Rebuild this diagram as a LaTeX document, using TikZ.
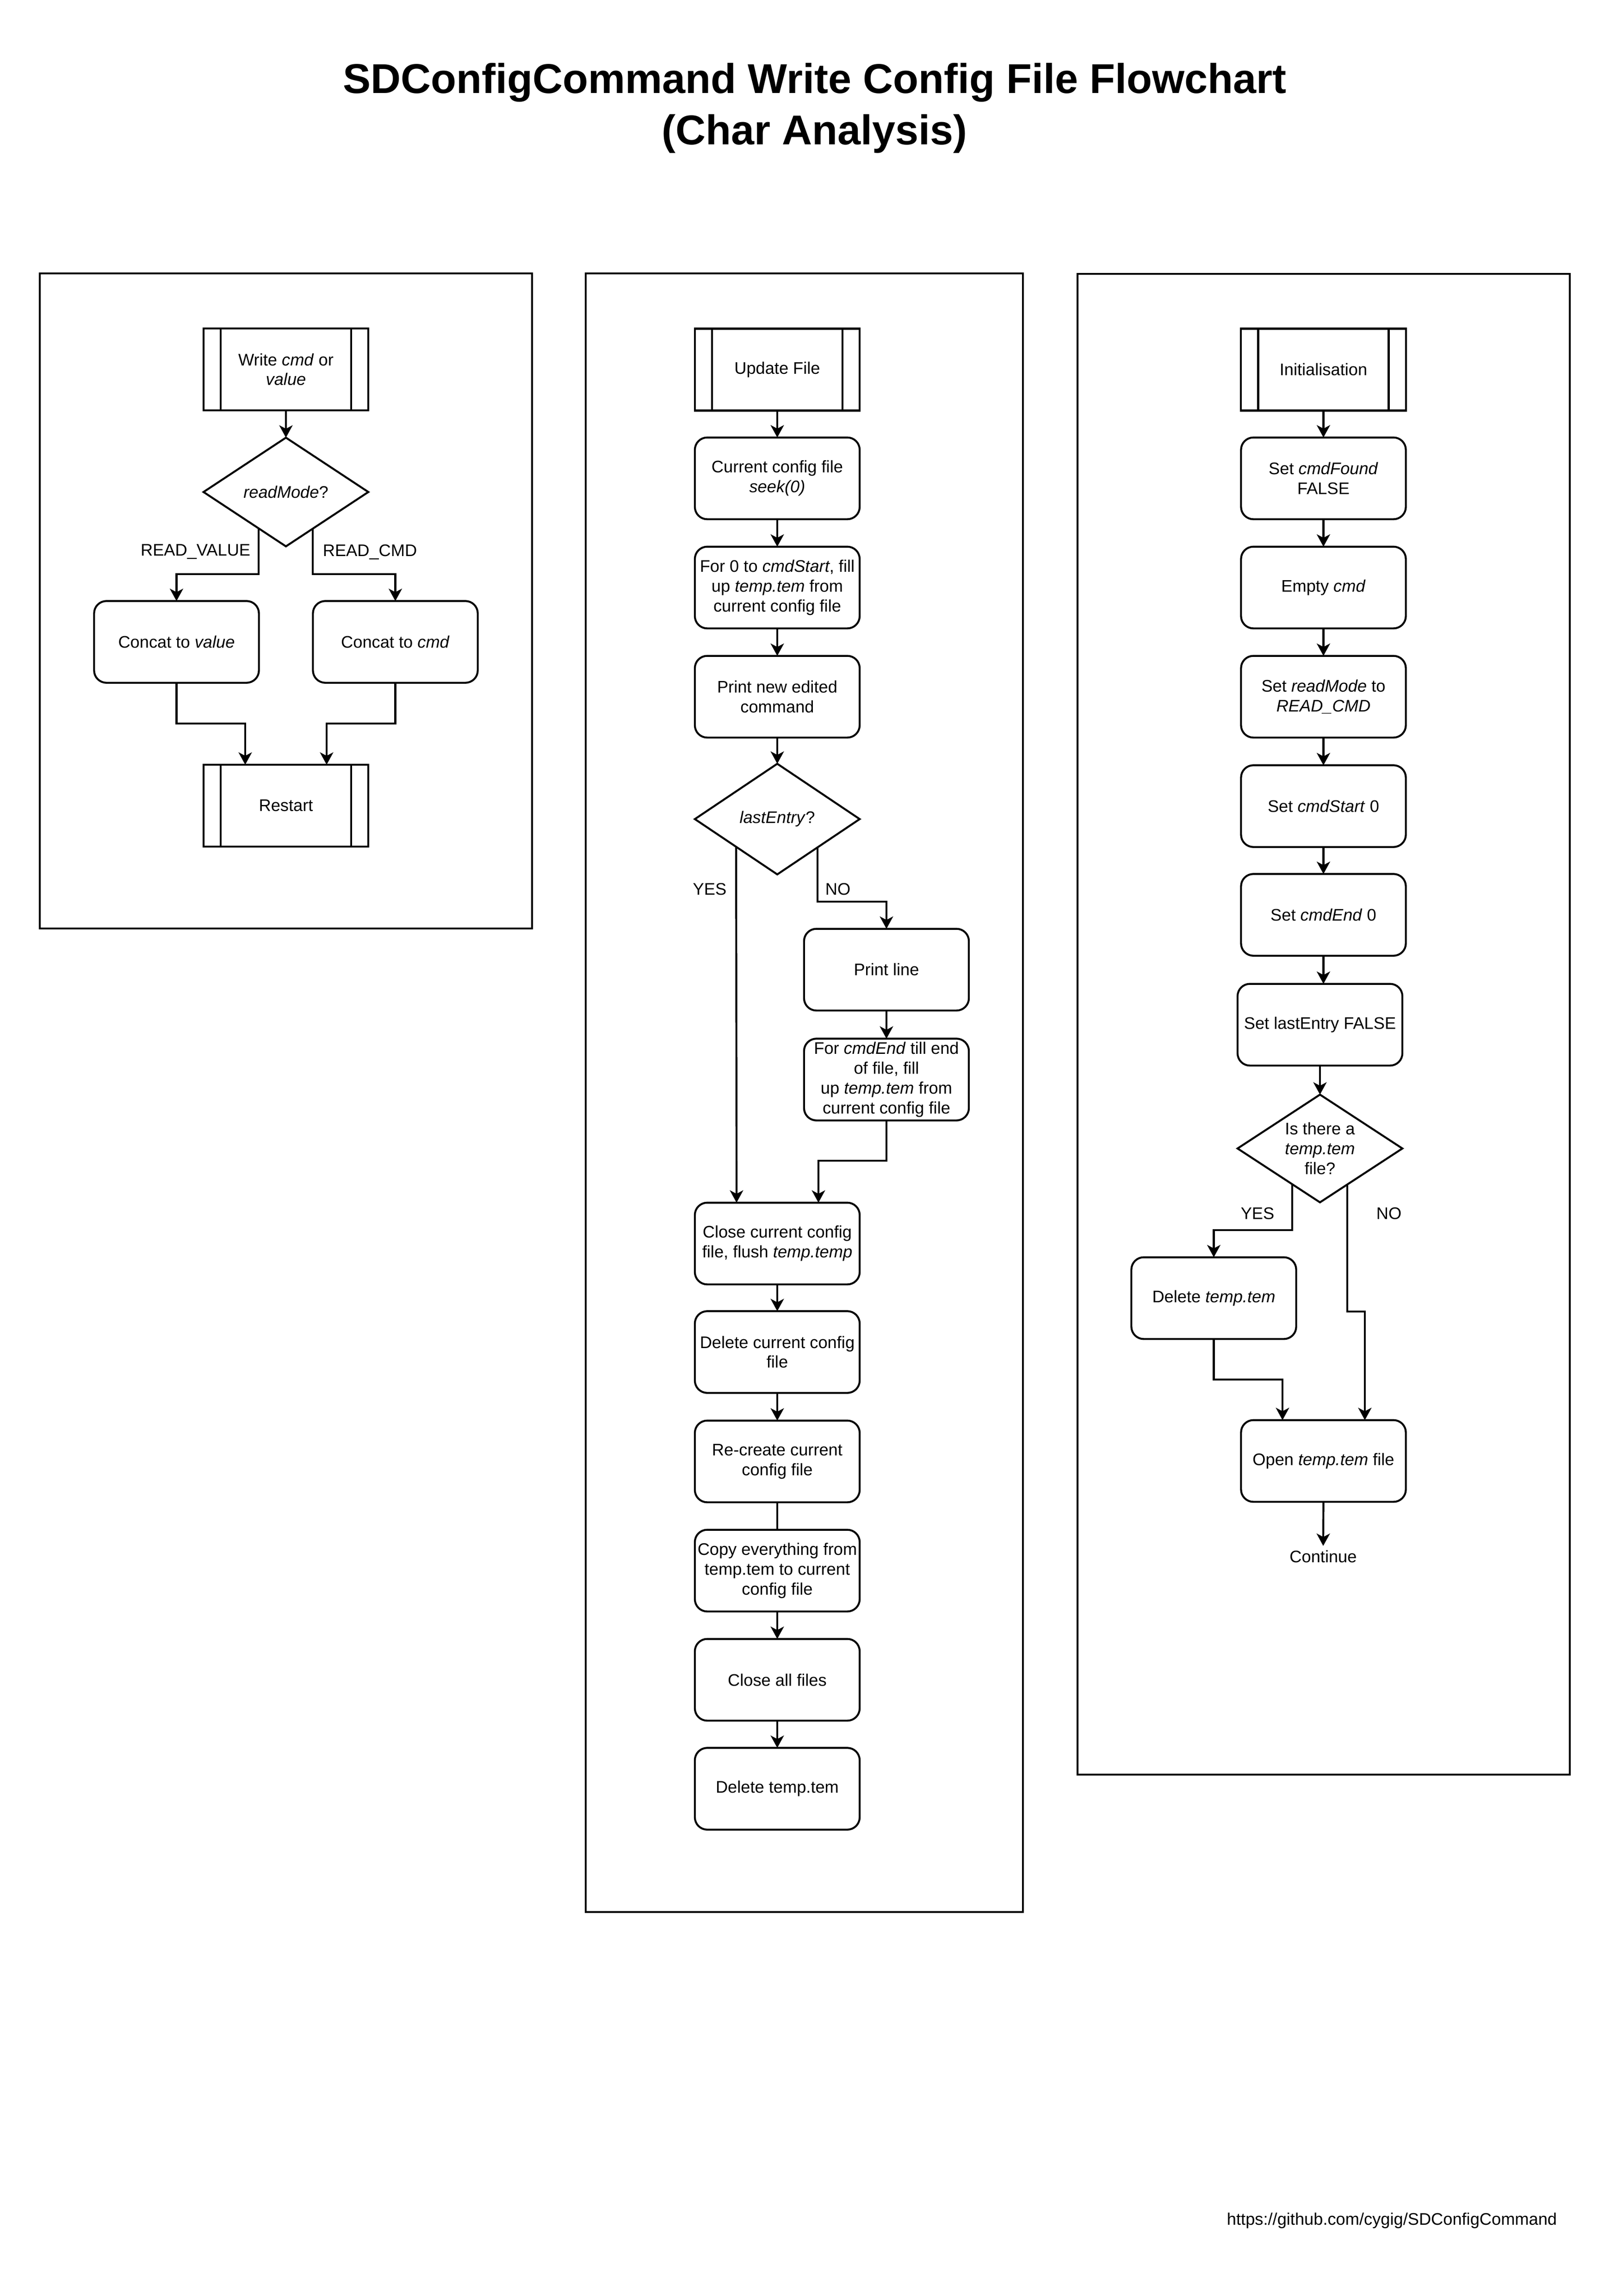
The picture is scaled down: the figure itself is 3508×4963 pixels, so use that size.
\documentclass[tikz,border=0pt]{standalone}
\usepackage{fontspec}
\setmainfont{Liberation Sans}
\usetikzlibrary{arrows.meta,calc,shapes.geometric}
\begin{document}
\begin{tikzpicture}[x=0.24pt,y=-0.24pt,
  lw/.style={line width=1pt},
  every node/.style={font=\fontsize{8.7}{10.3}\selectfont},
  panel/.style={draw,lw},
  stepbox/.style={draw,lw,rounded corners=6.4pt,minimum width=85.5pt,minimum height=42.4pt,align=center,inner sep=1pt,outer sep=0pt},
  procbox/.style={draw,lw,minimum width=85.5pt,minimum height=42.5pt,align=center,inner sep=1pt,outer sep=0pt,
    path picture={
      \draw[lw] ([xshift=8.9pt]path picture bounding box.north west) -- ([xshift=8.9pt]path picture bounding box.south west);
      \draw[lw] ([xshift=-8.9pt]path picture bounding box.north east) -- ([xshift=-8.9pt]path picture bounding box.south east);}},
  decision/.style={draw,lw,diamond,minimum width=85.5pt,minimum height=56.5pt,inner sep=0pt,outer sep=0pt},
  arr/.style={lw,-{Stealth[length=6.4pt,width=6.9pt,inset=1.8pt]}},
  plain/.style={lw},
  lbl/.style={inner sep=0pt},
]
\useasboundingbox (0,0) rectangle (3508,4963);
\fill[white] (0,0) rectangle (3508,4963);

% title
\node[align=center,font=\fontsize{21.6}{26.6}\selectfont\bfseries] (title) at (1761,234)
  {SDConfigCommand Write Config File Flowchart\\(Char Analysis)};

% panels
\draw[panel] (86,591) rectangle (1150,2007);
\draw[panel] (1266,591) rectangle (2211,4133);
\draw[panel] (2329,592) rectangle (3393,3836);

% ---------- panel 1 ----------
\node[procbox] (w1) at (618,798.5) {Write \textit{cmd} or\\\textit{value}};
\node[decision,minimum height=56.4pt,label={[align=center]center:{\textit{readMode}?}}] (d1) at (618,1063.5) {};
\node[stepbox] (cv) at (381.5,1387.5) {Concat to \textit{value}};
\node[stepbox] (cc1) at (854.5,1387.5) {Concat to \textit{cmd}};
\node[procbox] (rs) at (618,1741.5) {Restart};

\draw[arr] (w1.south) -- (d1.north);
\draw[arr] (d1.233.4) |- ($(cv.north)+(0,-58)$) -- (cv.north);
\draw[arr] (d1.306.6) |- ($(cc1.north)+(0,-58)$) -- (cc1.north);
\draw[arr] (cv.south) |- ($(rs.north)+(-88,-89)$) -- ($(rs.north)+(-88,0)$);
\draw[arr] (cc1.south) |- ($(rs.north)+(88,-89)$) -- ($(rs.north)+(88,0)$);
\node[lbl,anchor=east] (lrv) at (542,1193) {READ\_VALUE};
\node[lbl,anchor=west] (lrc) at (697,1193) {READ\_CMD};

% ---------- panel 2 ----------
\node[procbox] (uf) at (1680,799) {Update File};
\node[stepbox] (cc) at (1680,1034) {Current config file\\\textit{seek(0)}};
\node[stepbox] (f0) at (1680,1270) {For 0 to \textit{cmdStart}, fill\\up \textit{temp.tem} from\\current config file};
\node[stepbox] (pn) at (1680,1506) {Print new edited\\command};
\node[decision,minimum height=57.4pt,label={[align=center]center:{\textit{lastEntry}?}}] (le) at (1680,1770.5) {};
\node[stepbox] (pl) at (1916,2096) {Print line};
\node[stepbox] (fe) at (1916,2333.5) {For \textit{cmdEnd} till end\\of file, fill\\up \textit{temp.tem} from\\current config file};
\node[stepbox] (cl) at (1680,2688) {Close current config\\file, flush \textit{temp.temp}};
\node[stepbox] (dc) at (1680,2922.5) {Delete current config\\file};
\node[stepbox] (rc) at (1680,3159) {Re-create current\\config file};
\node[stepbox] (ce) at (1680,3395) {Copy everything from\\temp.tem to current\\config file};
\node[stepbox] (ca) at (1680,3631) {Close all files};
\node[stepbox] (dt) at (1680,3866.5) {Delete temp.tem};

\draw[arr] (uf.south) -- (cc.north);
\draw[arr] (cc.south) -- (f0.north);
\draw[arr] (f0.south) -- (pn.north);
\draw[arr] (pn.south) -- (le.north);
\draw[arr] (le.214.3) -- ($(cl.north)+(-88,0)$);
\draw[arr] (le.325.9) |- ($(pl.north)+(0,-59)$) -- (pl.north);
\draw[arr] (pl.south) -- (fe.north);
\draw[arr] (fe.south) |- ($(cl.north)+(89,-91)$) -- ($(cl.north)+(89,0)$);
\draw[arr] (cl.south) -- (dc.north);
\draw[arr] (dc.south) -- (rc.north);
\draw[plain] (rc.south) -- (ce.north);
\draw[arr] (ce.south) -- (ca.north);
\draw[arr] (ca.south) -- (dt.north);
\node[lbl] (lyes2) at (1534,1922) {YES};
\node[lbl] (lno2) at (1811,1922) {NO};

% ---------- panel 3 ----------
\node[procbox] (in) at (2860.5,799) {Initialisation};
\node[stepbox] (sf) at (2860.5,1034) {Set \textit{cmdFound}\\FALSE};
\node[stepbox] (ec) at (2860.5,1270) {Empty \textit{cmd}};
\node[stepbox] (sr) at (2860.5,1506) {Set \textit{readMode} to\\\textit{READ\_CMD}};
\node[stepbox] (ss) at (2860.5,1742.5) {Set \textit{cmdStart} 0};
\node[stepbox] (se) at (2860.5,1977.5) {Set \textit{cmdEnd} 0};
\node[stepbox] (sl) at (2853,2215) {Set lastEntry FALSE};
\node[decision,minimum height=55.9pt,label={[align=center]center:{Is there a\\\textit{temp.tem}\\file?}}] (td) at (2853,2482.5) {};
\node[stepbox] (dl) at (2623.5,2806) {Delete \textit{temp.tem}};
\node[stepbox] (ot) at (2860.5,3158) {Open \textit{temp.tem} file};
\node[inner sep=2pt] (cont) at (2860,3364) {Continue};

\draw[arr] (in.south) -- (sf.north);
\draw[arr] (sf.south) -- (ec.north);
\draw[arr] (ec.south) -- (sr.north);
\draw[arr] (sr.south) -- (ss.north);
\draw[arr] (ss.south) -- (se.north);
\draw[arr] (se.south) -- (se.south |- sl.north);
\draw[arr] (sl.south) -- (td.north);
\draw[arr] (td.232.9) |- ($(dl.north)+(0,-59)$) -- (dl.north);
\draw[arr] (td.307.1) |- ($(ot.north)+(89.5,-235)$) -- ($(ot.north)+(89.5,0)$);
\draw[arr] (dl.south) |- ($(ot.north)+(-88.5,-88)$) -- ($(ot.north)+(-88.5,0)$);
\draw[arr] (ot.south) -- (cont.north);
\node[lbl] (lyes3) at (2718,2623) {YES};
\node[lbl] (lno3) at (3002,2623) {NO};

% footer
\node[lbl,anchor=east] (url) at (3366,4800) {https://github.com/cygig/SDConfigCommand};
\end{tikzpicture}
\end{document}
